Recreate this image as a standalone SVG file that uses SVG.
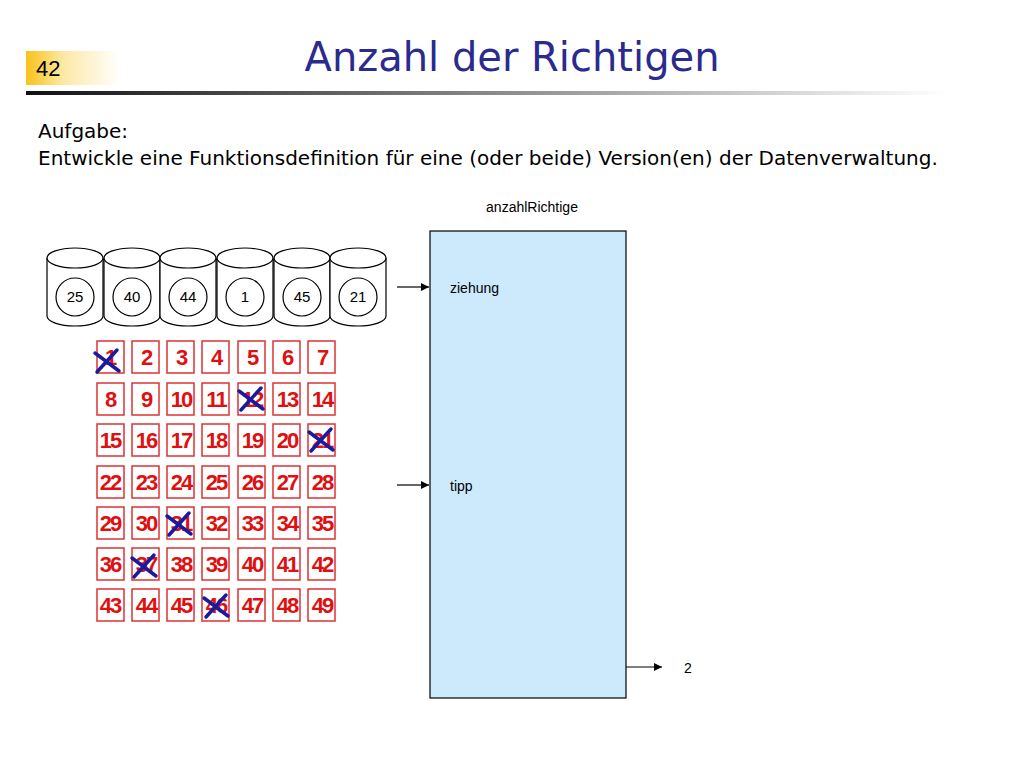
<svg xmlns="http://www.w3.org/2000/svg" width="1024" height="768" viewBox="0 0 1024 768">
<defs>
<linearGradient id="ng" x1="0" x2="1"><stop offset="0" stop-color="#f9c21a"/><stop offset="0.4" stop-color="#fde9a6"/><stop offset="1" stop-color="#fff"/></linearGradient>
<linearGradient id="lg" x1="0" x2="1"><stop offset="0" stop-color="#111"/><stop offset="0.5" stop-color="#888"/><stop offset="1" stop-color="#fff"/></linearGradient>
<marker id="ar" markerWidth="8" markerHeight="8" refX="8" refY="4" orient="auto" markerUnits="userSpaceOnUse"><path d="M0,0L8,4L0,8z" fill="#000"/></marker>
<g id="cyl"><path d="M0,10 V68 A28,10 0 0 0 56,68 V10" fill="#fff" stroke="#000" stroke-width="1.2"/><ellipse cx="28" cy="10" rx="28" ry="10" fill="#fff" stroke="#000" stroke-width="1.2"/><circle cx="28" cy="49" r="19" fill="#fff" stroke="#000" stroke-width="1.2"/></g>
<g id="x"><path d="M-12,-9 L12,9 M-10,10 L10,-12" stroke="#1a1aa0" stroke-width="3.5" stroke-linecap="round"/></g>
</defs>
<style>
.t{font-family:"Liberation Sans",Arial,sans-serif}
.c{font-family:"Liberation Sans",Arial,sans-serif;font-size:15px;text-anchor:middle}
.n{font-family:"Liberation Sans",Arial,sans-serif;font-size:22px;font-weight:bold;fill:#e01010;text-anchor:middle}
.b{fill:#fff;stroke:#d33;stroke-width:1.5}
.w{stroke:#000;stroke-width:1.2;marker-end:url(#ar)}
</style>
<rect width="1024" height="768" fill="#fff"/>
<rect x="26" y="51" width="94" height="34" fill="url(#ng)"/>
<text x="36" y="76" font-size="22" class="t">42</text>
<rect x="26" y="91" width="920" height="4" style="fill:url(#lg)"/>
<text x="512" y="71" font-size="40" fill="#2b2b8f" text-anchor="middle" style="font-family:Tahoma,'DejaVu Sans',sans-serif">Anzahl der Richtigen</text>
<text x="38" y="138" font-size="20" style="font-family:'DejaVu Sans',sans-serif">Aufgabe:</text>
<text x="38" y="165" font-size="20" style="font-family:'DejaVu Sans',sans-serif">Entwickle eine Funktionsdefinition für eine (oder beide) Version(en) der Datenverwaltung.</text>
<g id="lotto">
<use href="#cyl" x="47" y="248"/><use href="#cyl" x="104" y="248"/><use href="#cyl" x="160" y="248"/><use href="#cyl" x="217" y="248"/><use href="#cyl" x="274" y="248"/><use href="#cyl" x="330" y="248"/>
<text class="c" x="75" y="302">25</text><text class="c" x="132" y="302">40</text><text class="c" x="188" y="302">44</text><text class="c" x="245" y="302">1</text><text class="c" x="302" y="302">45</text><text class="c" x="358" y="302">21</text>
</g>
<g id="tippschein">
<rect class="b" x="97" y="341" width="27" height="32"/><rect class="b" x="132" y="341" width="27" height="32"/><rect class="b" x="167" y="341" width="27" height="32"/><rect class="b" x="202" y="341" width="27" height="32"/><rect class="b" x="238" y="341" width="27" height="32"/><rect class="b" x="273" y="341" width="27" height="32"/><rect class="b" x="308" y="341" width="27" height="32"/>
<rect class="b" x="97" y="383" width="27" height="32"/><rect class="b" x="132" y="383" width="27" height="32"/><rect class="b" x="167" y="383" width="27" height="32"/><rect class="b" x="202" y="383" width="27" height="32"/><rect class="b" x="238" y="383" width="27" height="32"/><rect class="b" x="273" y="383" width="27" height="32"/><rect class="b" x="308" y="383" width="27" height="32"/>
<rect class="b" x="97" y="424" width="27" height="32"/><rect class="b" x="132" y="424" width="27" height="32"/><rect class="b" x="167" y="424" width="27" height="32"/><rect class="b" x="202" y="424" width="27" height="32"/><rect class="b" x="238" y="424" width="27" height="32"/><rect class="b" x="273" y="424" width="27" height="32"/><rect class="b" x="308" y="424" width="27" height="32"/>
<rect class="b" x="97" y="466" width="27" height="32"/><rect class="b" x="132" y="466" width="27" height="32"/><rect class="b" x="167" y="466" width="27" height="32"/><rect class="b" x="202" y="466" width="27" height="32"/><rect class="b" x="238" y="466" width="27" height="32"/><rect class="b" x="273" y="466" width="27" height="32"/><rect class="b" x="308" y="466" width="27" height="32"/>
<rect class="b" x="97" y="507" width="27" height="32"/><rect class="b" x="132" y="507" width="27" height="32"/><rect class="b" x="167" y="507" width="27" height="32"/><rect class="b" x="202" y="507" width="27" height="32"/><rect class="b" x="238" y="507" width="27" height="32"/><rect class="b" x="273" y="507" width="27" height="32"/><rect class="b" x="308" y="507" width="27" height="32"/>
<rect class="b" x="97" y="548" width="27" height="32"/><rect class="b" x="132" y="548" width="27" height="32"/><rect class="b" x="167" y="548" width="27" height="32"/><rect class="b" x="202" y="548" width="27" height="32"/><rect class="b" x="238" y="548" width="27" height="32"/><rect class="b" x="273" y="548" width="27" height="32"/><rect class="b" x="308" y="548" width="27" height="32"/>
<rect class="b" x="97" y="589" width="27" height="32"/><rect class="b" x="132" y="589" width="27" height="32"/><rect class="b" x="167" y="589" width="27" height="32"/><rect class="b" x="202" y="589" width="27" height="32"/><rect class="b" x="238" y="589" width="27" height="32"/><rect class="b" x="273" y="589" width="27" height="32"/><rect class="b" x="308" y="589" width="27" height="32"/>
<g style="letter-spacing:-2px">
<text class="n" x="110" y="365">1</text><text class="n" x="146" y="365">2</text><text class="n" x="181" y="365">3</text><text class="n" x="216" y="365">4</text><text class="n" x="252" y="365">5</text><text class="n" x="287" y="365">6</text><text class="n" x="322" y="365">7</text>
<text class="n" x="110" y="407">8</text><text class="n" x="146" y="407">9</text><text class="n" x="181" y="407">10</text><text class="n" x="216" y="407">11</text><text class="n" x="252" y="407">12</text><text class="n" x="287" y="407">13</text><text class="n" x="322" y="407">14</text>
<text class="n" x="110" y="448">15</text><text class="n" x="146" y="448">16</text><text class="n" x="181" y="448">17</text><text class="n" x="216" y="448">18</text><text class="n" x="252" y="448">19</text><text class="n" x="287" y="448">20</text><text class="n" x="322" y="448">21</text>
<text class="n" x="110" y="490">22</text><text class="n" x="146" y="490">23</text><text class="n" x="181" y="490">24</text><text class="n" x="216" y="490">25</text><text class="n" x="252" y="490">26</text><text class="n" x="287" y="490">27</text><text class="n" x="322" y="490">28</text>
<text class="n" x="110" y="531">29</text><text class="n" x="146" y="531">30</text><text class="n" x="181" y="531">31</text><text class="n" x="216" y="531">32</text><text class="n" x="252" y="531">33</text><text class="n" x="287" y="531">34</text><text class="n" x="322" y="531">35</text>
<text class="n" x="110" y="572">36</text><text class="n" x="146" y="572">37</text><text class="n" x="181" y="572">38</text><text class="n" x="216" y="572">39</text><text class="n" x="252" y="572">40</text><text class="n" x="287" y="572">41</text><text class="n" x="322" y="572">42</text>
<text class="n" x="110" y="613">43</text><text class="n" x="146" y="613">44</text><text class="n" x="181" y="613">45</text><text class="n" x="216" y="613">46</text><text class="n" x="252" y="613">47</text><text class="n" x="287" y="613">48</text><text class="n" x="322" y="613">49</text>
</g>
<use href="#x" x="107" y="362"/><use href="#x" x="251" y="400"/><use href="#x" x="321" y="441"/><use href="#x" x="179" y="525"/><use href="#x" x="144" y="567"/><use href="#x" x="216" y="607"/>
</g>
<g id="func">
<rect x="430" y="231" width="196" height="467" fill="#cdeafc" stroke="#000" stroke-width="1.2"/>
<text x="532" y="212" font-size="14" text-anchor="middle" class="t">anzahlRichtige</text>
<text x="450" y="293" font-size="14" class="t">ziehung</text>
<text x="450" y="491" font-size="14" class="t">tipp</text>
<text x="684" y="673" font-size="14" class="t">2</text>
</g>
<g id="connectors">
<line class="w" x1="397" y1="287" x2="429" y2="287"/>
<line class="w" x1="397" y1="485" x2="429" y2="485"/>
<line class="w" x1="626" y1="667" x2="662" y2="667"/>
</g>
</svg>
